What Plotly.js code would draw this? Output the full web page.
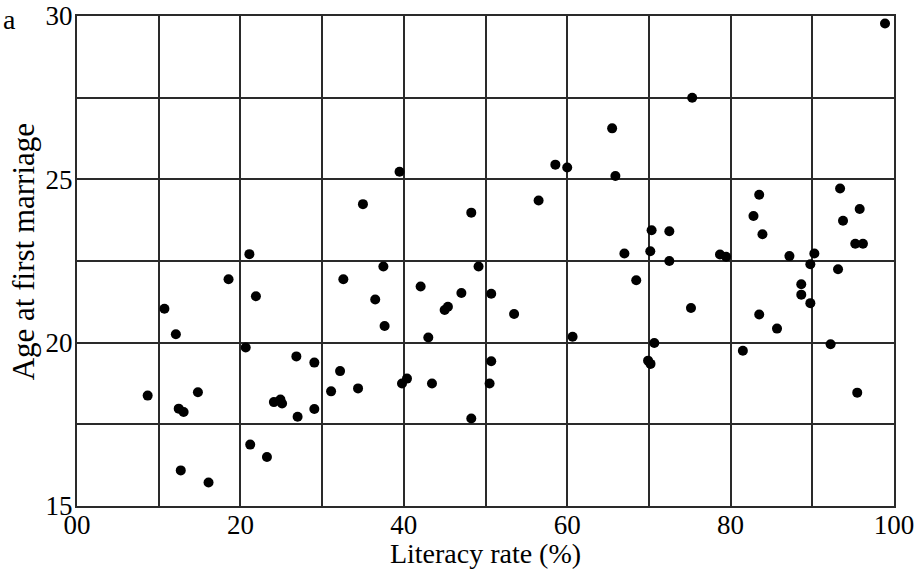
<!DOCTYPE html>
<html>
<head>
<meta charset="utf-8">
<script src="https://cdn.plot.ly/plotly-3.0.1.min.js"></script>
<style>html,body{margin:0;padding:0;background:#fff;}#chart{width:915px;height:569px;}</style>
</head>
<body>
<div id="chart"></div>
<script>
const literacy = [8.65,10.7,12.1,12.45,13.05,12.7,14.8,16.1,18.55,20.65,21.1,21.2,21.9,23.25,24.1,24.9,25.1,26.85,27.0,29.05,29.05,31.1,32.2,32.6,34.4,35.0,36.5,37.5,37.65,39.48,39.78,40.39,42.06,43.0,43.45,45.0,45.4,47.05,48.26,48.26,49.15,50.7,50.5,50.7,53.5,56.5,58.55,60.0,60.66,65.5,65.9,67.0,68.45,70.33,70.17,69.9,70.2,70.66,72.5,72.5,75.3,75.15,78.7,79.45,81.5,82.8,83.5,83.9,83.5,85.68,87.2,88.65,88.65,89.76,90.25,89.76,92.24,93.15,93.4,93.76,95.26,96.2,95.8,95.5,98.9];
const ageAtMarriage = [18.38,21.04,20.26,17.98,17.88,16.09,18.48,15.72,21.94,19.85,22.71,16.88,21.42,16.5,18.18,18.26,18.14,19.58,17.73,19.39,17.97,18.51,19.13,21.94,18.6,24.24,21.32,22.33,20.51,25.23,18.75,18.9,21.72,20.16,18.75,21.0,21.1,21.52,23.98,17.68,22.33,21.5,18.75,19.43,20.88,24.35,25.45,25.36,20.18,26.56,25.1,22.73,21.91,23.44,22.8,19.45,19.35,19.99,23.41,22.5,27.5,21.06,22.7,22.63,19.75,23.88,24.53,23.32,20.86,20.43,22.65,21.79,21.47,22.4,22.73,21.21,19.95,22.25,24.72,23.73,23.03,23.03,24.09,18.47,29.77];
const xTickVals = [0,10,20,30,40,50,60,70,80,90,100];
const xTickText = ["00","","20","","40","","60","","80","","100"];
const yTickVals = [15,17.5,20,22.5,25,27.5,30];
const yTickText = ["15","","20","","25","","30"];
const xTitle = "Literacy rate (%)";
const yTitle = "Age at first marriage";
const panelLabel = "a";

const fam = "Liberation Serif";
const tickFont = {family: fam, color: "#000", size: 27};
const xTitleFont = {family: fam, color: "#000", size: 28};
const yTitleFont = {family: fam, color: "#000", size: 31};

Plotly.newPlot("chart", [{
  x: literacy, y: ageAtMarriage, type: "scatter", mode: "markers",
  marker: {color: "#000", size: 10}, showlegend: false, hoverinfo: "none"
}], {
  width: 915, height: 569,
  margin: {l: 77, r: 21, t: 16, b: 63},
  paper_bgcolor: "#fff", plot_bgcolor: "#fff",
  font: {family: fam, color: "#000", size: 27},
  xaxis: {
    range: [0, 100], tickvals: xTickVals, ticktext: xTickText,
    showgrid: true, gridcolor: "#2a2a2a", gridwidth: 2, zeroline: false,
    showline: true, linecolor: "#2a2a2a", linewidth: 2, mirror: true,
    ticks: "", tickfont: tickFont, ticklabelstandoff: -6, automargin: false,
    title: {text: xTitle, font: xTitleFont, standoff: 2}
  },
  yaxis: {
    range: [15, 30], tickvals: yTickVals, ticktext: yTickText,
    showgrid: true, gridcolor: "#2a2a2a", gridwidth: 2, zeroline: false,
    showline: true, linecolor: "#2a2a2a", linewidth: 2, mirror: true,
    ticks: "", tickfont: tickFont, ticklabelstandoff: -3, automargin: false
  },
  annotations: [{
    text: yTitle, textangle: -90, xref: "paper", yref: "paper",
    x: (23 - 77) / 817, y: (505.7 - 252) / 490, xanchor: "center", yanchor: "middle",
    showarrow: false, font: yTitleFont
  }, {
    text: panelLabel, xref: "paper", yref: "paper", x: (1 - 77) / 817, y: (505.7 - 19) / 490,
    xanchor: "left", yanchor: "middle", showarrow: false,
    font: {family: fam, color: "#000", size: 28}
  }]
}, {displayModeBar: false, staticPlot: true});
</script>
</body>
</html>
